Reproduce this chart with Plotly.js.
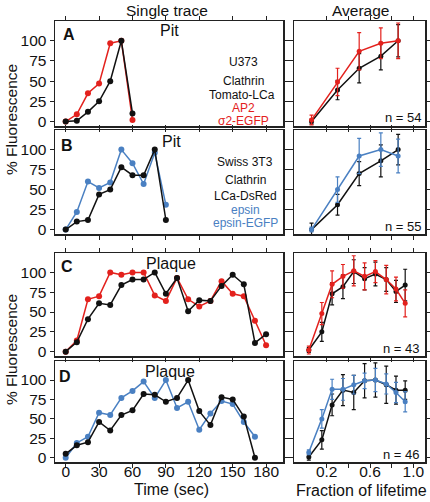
<!DOCTYPE html>
<html><head><meta charset="utf-8">
<script src="https://cdn.plot.ly/plotly-3.0.1.min.js"></script>
<style>html,body{margin:0;padding:0;background:#fff}#chart{width:430px;height:502px}</style>
</head><body><div id="chart"></div>
<script>
// ---------- data: single traces (time in sec, % fluorescence) ----------
const timeA = [0,10,20,30,40,50,60];
const pitA_clathrin = [0,1,12,25,50,100,10];
const pitA_ap2      = [0,9,35,47,97,100,2];

const timeB = [0,10,20,30,40,50,60,70,80,90];
const pitB_clathrin = [0,10,12,44,50,78,68,68,100,12];
const pitB_epsin    = [0,22,60,52,59,100,83,57,96,31];

const timeC = [0,10,20,30,40,50,60,70,80,90,100,110,120,130,140,150,160,170,180];
const plaqueC_clathrin = [0,12,41,61,59,84,91,91,100,73,93,51,65,64,83,97,85,11,22];
const plaqueC_ap2      = [0,14,66,70,100,97,100,100,71,64,93,66,57,64,89,73,70,39,8];

const timeD = [0,10,20,30,40,50,60,70,80,90,100,110,120,130,140,150,160,170];
const plaqueD_clathrin = [5,16,20,46,35,55,61,82,81,72,77,100,60,42,78,75,53,0];
const plaqueD_epsin    = [0,19,27,58,55,77,86,98,77,100,64,72,36,57,73,69,46,27];

// ---------- data: averages (fraction of lifetime) ----------
const fracAB = [0.06,0.30,0.50,0.70,0.86];
const avgA_clathrin = [0,39,66,81,100];
const avgA_clathrin_err = [3,12,18,17,20];
const avgA_ap2 = [2,49,87,97,100];
const avgA_ap2_err = [6,17,23,19,22];
const nA = 54;

const avgB_clathrin = [0,31,70,86,100];
const avgB_clathrin_err = [8,13,15,20,19];
const avgB_epsin = [0,50,92,100,92];
const avgB_epsin_err = [3,16,22,21,21];
const nB = 55;

const fracCD = [0.035,0.155,0.25,0.35,0.45,0.55,0.65,0.75,0.84,0.925];
const avgC_clathrin = [2,25,73,82,101,92,98,91,76,84];
const avgC_clathrin_err = [3,12,14,15,15,14,15,15,14,20];
const avgC_ap2 = [2,48,85,95,102,95,101,91,79,61];
const avgC_ap2_err = [5,14,17,15,19,17,14,18,15,17];
const nC = 43;

const avgD_clathrin = [1,23,68,87,84,99,100,94,87,87];
const avgD_clathrin_err = [4,12,14,20,22,22,22,24,18,12];
const avgD_epsin = [7,50,88,88,94,99,100,95,84,72];
const avgD_epsin_err = [3,12,13,14,12,10,15,13,13,13];
const nD = 46;

const yTicks = [0,25,50,75,100];
const timeTicks = [0,30,60,90,120,150,180];
const fracTicks = [0.2,0.4,0.6,0.8,1.0];
const fracTickText = ['0.2','','0.6','','1.0'];

// ---------- styling ----------
const BLACK = '#111111', RED = '#e3211d', BLUE = '#4a80c2';
const FONT = 'Liberation Sans, Arial, sans-serif';
const W = 430, H = 502;
const px = x => x / W, py = y => 1 - y / H;

function line(x, y, color, xa, ya) {
  return {x: x, y: y, xaxis: xa, yaxis: ya, type: 'scatter', mode: 'lines+markers',
    line: {color: color, width: 1.5}, marker: {color: color, size: 6}, hoverinfo: 'skip'};
}
function avg(x, y, err, color, xa, ya) {
  const t = line(x, y, color, xa, ya);
  t.marker.size = 5;
  t.error_y = {type: 'data', array: err, visible: true, color: color, thickness: 1.2, width: 2};
  return t;
}

const traces = [
  line(timeA, pitA_ap2, RED, 'x', 'y'),
  line(timeA, pitA_clathrin, BLACK, 'x', 'y'),
  avg(fracAB, avgA_clathrin, avgA_clathrin_err, BLACK, 'x2', 'y2'),
  avg(fracAB, avgA_ap2, avgA_ap2_err, RED, 'x2', 'y2'),
  line(timeB, pitB_epsin, BLUE, 'x3', 'y3'),
  line(timeB, pitB_clathrin, BLACK, 'x3', 'y3'),
  avg(fracAB, avgB_clathrin, avgB_clathrin_err, BLACK, 'x4', 'y4'),
  avg(fracAB, avgB_epsin, avgB_epsin_err, BLUE, 'x4', 'y4'),
  line(timeC, plaqueC_ap2, RED, 'x5', 'y5'),
  line(timeC, plaqueC_clathrin, BLACK, 'x5', 'y5'),
  avg(fracCD, avgC_clathrin, avgC_clathrin_err, BLACK, 'x6', 'y6'),
  avg(fracCD, avgC_ap2, avgC_ap2_err, RED, 'x6', 'y6'),
  line(timeD, plaqueD_epsin, BLUE, 'x7', 'y7'),
  line(timeD, plaqueD_clathrin, BLACK, 'x7', 'y7'),
  avg(fracCD, avgD_clathrin, avgD_clathrin_err, BLACK, 'x8', 'y8'),
  avg(fracCD, avgD_epsin, avgD_epsin_err, BLUE, 'x8', 'y8')
];

// panel geometry in pixels
const leftX = [55, 283], rightX = [294, 425];
const rows = [[21, 126], [130, 234], [253, 356], [361, 462]];

const layout = {
  width: W, height: H, margin: {l: 0, r: 0, t: 0, b: 0},
  paper_bgcolor: '#fff', plot_bgcolor: '#fff', showlegend: false,
  font: {family: FONT, size: 15, color: '#111'},
  annotations: []
};

function axCommon() {
  return {showline: true, linecolor: '#222', linewidth: 1.5, mirror: 'ticks',
    ticks: 'outside', ticklen: 4, tickwidth: 1, tickcolor: '#222',
    showgrid: false, zeroline: false, fixedrange: true,
    tickfont: {family: FONT, size: 15.5, color: '#111'}};
}

for (let r = 0; r < 4; r++) {
  const bottom = r === 3;
  const yd = [py(rows[r][1]), py(rows[r][0])];
  const li = 2 * r + 1, ri = 2 * r + 2;
  const lk = li === 1 ? '' : String(li);
  // left panel
  const lx = axCommon();
  Object.assign(lx, {domain: [px(leftX[0]), px(leftX[1])], range: [-9.6, 195.2],
    tickmode: 'array', tickvals: timeTicks, showticklabels: bottom, ticklabelstandoff: -9,
    anchor: 'y' + lk});
  const ly = axCommon();
  Object.assign(ly, {domain: yd, range: [-5.5, 124.5], tickmode: 'array', tickvals: yTicks,
    showticklabels: true, anchor: 'x' + lk});
  layout['xaxis' + lk] = lx;
  layout['yaxis' + lk] = ly;
  // right panel
  const rx = axCommon();
  Object.assign(rx, {domain: [px(rightX[0]), px(rightX[1])], range: [-0.102, 1.108],
    tickmode: 'array', tickvals: fracTicks, ticktext: fracTickText, showticklabels: bottom,
    ticklabelstandoff: -9, anchor: 'y' + ri});
  const ry = axCommon();
  Object.assign(ry, {domain: yd, range: [-5.5, 124.5], tickmode: 'array', tickvals: yTicks,
    showticklabels: false, anchor: 'x' + ri});
  layout['xaxis' + ri] = rx;
  layout['yaxis' + ri] = ry;
}

function ann(text, x, y, opts) {
  layout.annotations.push(Object.assign({text: text, x: px(x), y: py(y), xref: 'paper', yref: 'paper',
    xanchor: 'center', yanchor: 'middle', showarrow: false, borderpad: 0,
    font: {family: FONT, size: 15, color: '#111'}}, opts || {}));
}

ann('Single trace', 167, 11, {font: {family: FONT, size: 15.5, color: '#111'}});
ann('Average', 360, 11, {font: {family: FONT, size: 15.5, color: '#111'}});
ann('% Fluorescence', 11, 120, {textangle: -90, font: {family: FONT, size: 15.5, color: '#111'}});
ann('% Fluorescence', 11, 350, {textangle: -90, font: {family: FONT, size: 15.5, color: '#111'}});
ann('Time (sec)', 171, 489, {font: {family: FONT, size: 16, color: '#111'}});
ann('Fraction of lifetime', 361, 490, {font: {family: FONT, size: 16, color: '#111'}});

const boldF = {family: FONT, size: 16, color: '#111'};
ann('<b>A</b>', 69, 35, {font: boldF});
ann('<b>B</b>', 67, 146, {font: boldF});
ann('<b>C</b>', 67, 266, {font: boldF});
ann('<b>D</b>', 65, 376, {font: boldF});

const lblF = {family: FONT, size: 16, color: '#111'};
ann('Pit', 169, 31, {font: lblF});
ann('Pit', 171, 142, {font: lblF});
ann('Plaque', 171, 263, {font: lblF});
ann('Plaque', 170, 371, {font: lblF});

const cellF = c => ({family: FONT, size: 12, color: c});
ann('U373', 243, 62, {font: cellF('#111')});
ann('Clathrin', 243, 81.5, {font: cellF('#111')});
ann('Tomato-LCa', 242, 94.5, {font: cellF('#111')});
ann('AP2', 243, 107.5, {font: cellF(RED)});
ann('σ2-EGFP', 243, 120.5, {font: cellF(RED)});

ann('Swiss 3T3', 245, 162, {font: cellF('#111')});
ann('Clathrin', 245, 180, {font: cellF('#111')});
ann('LCa-DsRed', 245, 196, {font: cellF('#111')});
ann('epsin', 245, 210, {font: cellF(BLUE)});
ann('epsin-EGFP', 245, 223, {font: cellF(BLUE)});

const nF = {family: FONT, size: 13, color: '#111'};
ann('n = ' + nA, 403, 117, {font: nF});
ann('n = ' + nB, 403, 226, {font: nF});
ann('n = ' + nC, 401, 348, {font: nF});
ann('n = ' + nD, 401, 454, {font: nF});

Plotly.newPlot('chart', traces, layout, {displayModeBar: false, staticPlot: true});
</script>
</body></html>
